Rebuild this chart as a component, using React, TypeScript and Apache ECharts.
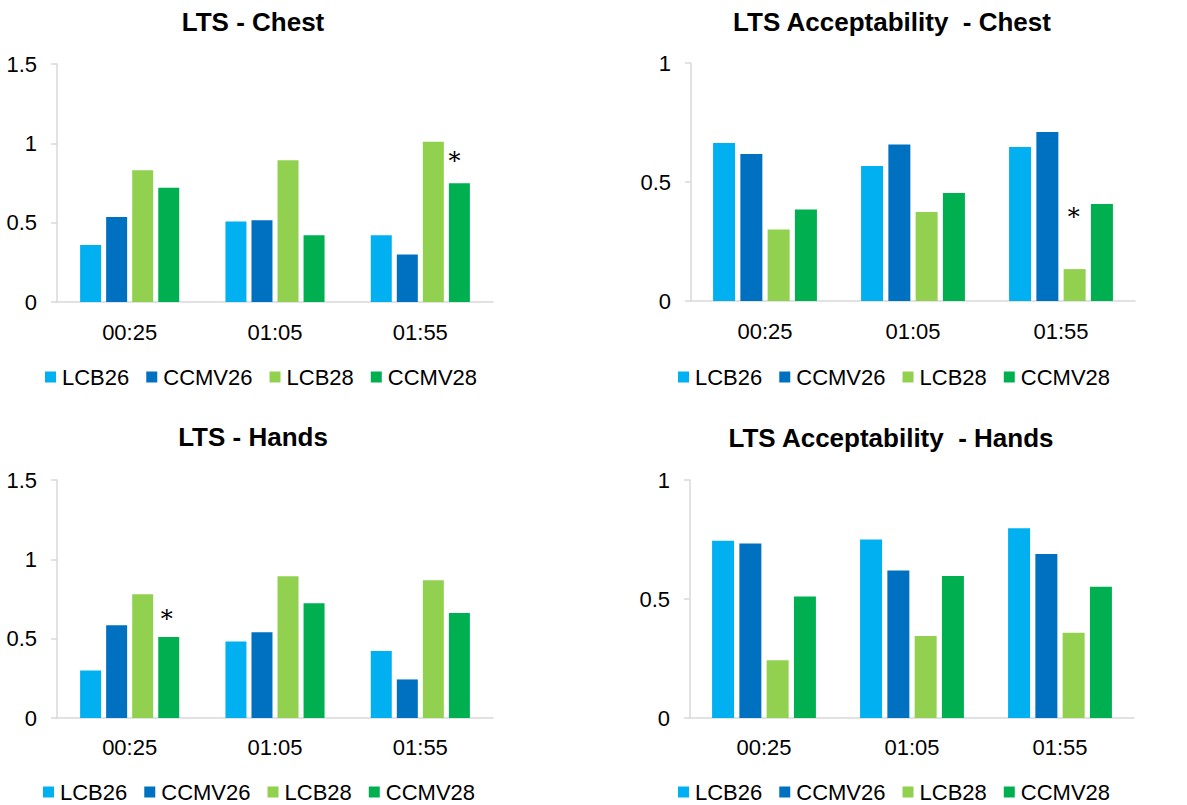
import React, { useEffect, useRef } from "react";
import * as echarts from "echarts";

const categories = ["00:25", "01:05", "01:55"];
const seriesNames = ["LCB26", "CCMV26", "LCB28", "CCMV28"];
const seriesColors = ["#00b0f0", "#0070c0", "#92d050", "#00b050"];

const panelTitles = [
  "LTS - Chest",
  "LTS Acceptability  - Chest",
  "LTS - Hands",
  "LTS Acceptability  - Hands",
];
const panelYMax = [1.5, 1, 1.5, 1];

// values[panel][series][category]
const ltsChest = [
  [0.36, 0.507, 0.42],
  [0.535, 0.516, 0.3],
  [0.83, 0.893, 1.01],
  [0.72, 0.42, 0.748],
];
const accChest = [
  [0.664, 0.567, 0.647],
  [0.618, 0.658, 0.71],
  [0.3, 0.374, 0.134],
  [0.384, 0.454, 0.408],
];
const ltsHands = [
  [0.3, 0.482, 0.423],
  [0.585, 0.541, 0.243],
  [0.78, 0.893, 0.868],
  [0.51, 0.723, 0.662],
];
const accHands = [
  [0.745, 0.75, 0.797],
  [0.733, 0.62, 0.689],
  [0.243, 0.345, 0.358],
  [0.51, 0.597, 0.551],
];
const panelValues = [ltsChest, accChest, ltsHands, accHands];

// significance markers: panel, series index, category index
const starMarks = [
  { panel: 0, series: 3, cat: 2 },
  { panel: 1, series: 2, cat: 2 },
  { panel: 2, series: 3, cat: 0 },
];

// layout (pixels)
const grids = [
  { left: 57, top: 64, width: 436, height: 238 },
  { left: 691, top: 63, width: 444, height: 238 },
  { left: 57, top: 480, width: 436, height: 238 },
  { left: 690, top: 480, width: 444, height: 238 },
];
const titlePos = [
  [253, 22],
  [892, 22],
  [253, 437],
  [891, 438],
];
const legendPos = [
  [40, 361],
  [673, 361],
  [38, 776],
  [673, 776],
];
const barWidths = [21, 22, 21, 22];
const starStyle: Record<number, { distance: number; dx: number }> = {
  0: { distance: 10, dx: -5 },
  1: { distance: 40, dx: -1 },
  2: { distance: 6, dx: -2 },
};

const FONT = "Liberation Sans, Arial, sans-serif";

export default function App() {
  const ref = useRef<HTMLDivElement>(null);
  useEffect(() => {
    if (!ref.current) return;
    const chart = echarts.init(ref.current, undefined, { renderer: "svg" });

    const series: any[] = [];
    panelValues.forEach((vals, p) => {
      vals.forEach((arr, s) => {
        series.push({
          type: "bar",
          name: seriesNames[s],
          xAxisIndex: p,
          yAxisIndex: p,
          barWidth: barWidths[p],
          barGap: "24%",
          itemStyle: { color: seriesColors[s] },
          data: arr.map((v, c) => {
            const mark = starMarks.find(
              (m) => m.panel === p && m.series === s && m.cat === c
            );
            if (!mark) return v;
            const st = starStyle[p];
            return {
              value: v,
              label: {
                show: true,
                position: "top",
                formatter: "*",
                distance: st.distance,
                offset: [st.dx, 0],
                fontSize: 24,
                fontFamily: "DejaVu Serif, serif",
                color: "#000",
              },
            };
          }),
        });
      });
    });

    const option: any = {
      animation: false,
      backgroundColor: "#ffffff",
      textStyle: { fontFamily: FONT },
      grid: grids.map((g) => ({ ...g, containLabel: false })),
      xAxis: grids.map((_, p) => ({
        type: "category",
        gridIndex: p,
        data: categories,
        axisLine: { show: true, lineStyle: { color: "#d9d9d9", width: 1.5 } },
        axisTick: { show: false },
        axisLabel: {
          fontSize: 22,
          color: "#000",
          fontFamily: FONT,
          margin: p < 2 ? 19 : 18,
        },
        splitLine: { show: false },
      })),
      yAxis: grids.map((_, p) => ({
        type: "value",
        gridIndex: p,
        min: 0,
        max: panelYMax[p],
        interval: 0.5,
        axisLine: { show: true, lineStyle: { color: "#d9d9d9", width: 1.5 } },
        axisTick: { show: true, length: 6, lineStyle: { color: "#d9d9d9", width: 1.5 } },
        axisLabel: { fontSize: 22, color: "#000", fontFamily: FONT, margin: 20 },
        splitLine: { show: false },
      })),
      legend: legendPos.map(([x, y]) => ({
        left: x,
        top: y,
        data: seriesNames,
        icon: "rect",
        itemWidth: 11,
        itemHeight: 11,
        itemGap: 17,
        textStyle: { fontSize: 22, color: "#000", fontFamily: FONT, padding: [0, 0, 0, 1] },
        selectedMode: false,
      })),
      graphic: panelTitles.map((t, p) => ({
        type: "text",
        x: titlePos[p][0],
        y: titlePos[p][1],
        style: {
          text: t,
          fontSize: 26,
          fontWeight: "bold",
          fontFamily: FONT,
          fill: "#000",
          textAlign: "center",
          textVerticalAlign: "middle",
        },
      })),
      series,
    };
    chart.setOption(option);
    return () => chart.dispose();
  }, []);
  return (
    <div
      ref={ref}
      style={{ position: "absolute", left: 0, top: 0, width: 1187, height: 805, background: "#fff" }}
    />
  );
}
